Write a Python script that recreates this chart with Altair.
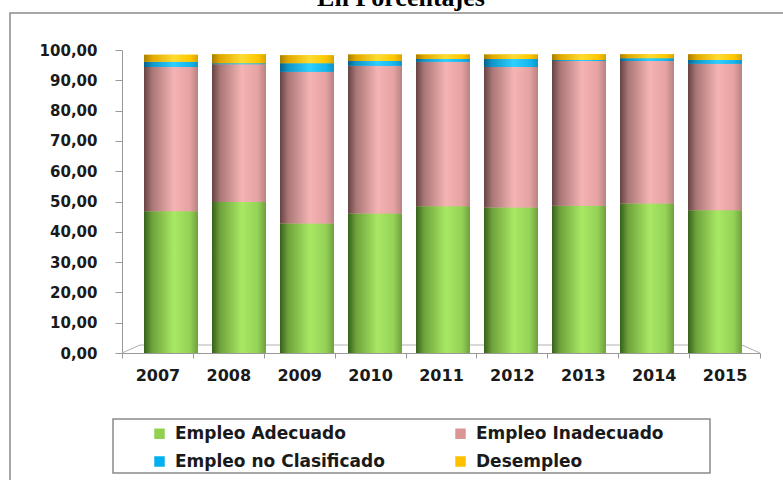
import altair as alt
import pandas as pd

years = ["2007", "2008", "2009", "2010", "2011", "2012", "2013", "2014", "2015"]
categories = ["Empleo Adecuado", "Empleo Inadecuado", "Empleo no Clasificado", "Desempleo"]
adecuado = [46.8, 49.8, 42.7, 46.0, 48.4, 48.0, 48.6, 49.3, 47.1]
inadecuado = [47.6, 45.5, 50.1, 48.8, 47.7, 46.4, 47.8, 47.1, 48.4]
no_clasificado = [1.7, 0.3, 2.8, 1.6, 0.9, 2.6, 0.3, 0.9, 1.2]
desempleo = [2.3, 3.0, 2.7, 2.1, 1.5, 1.5, 1.9, 1.3, 1.9]
y_ticks = [0, 10, 20, 30, 40, 50, 60, 70, 80, 90, 100]
title_text = "En Porcentajes"

flat_colors = ["#92D050", "#D99694", "#00B0F0", "#FFC000"]
gradient_stops = {
    "Empleo Adecuado": ["#35601b", "#6ea23c", "#a8e864", "#93d255", "#6f9e3f"],
    "Empleo Inadecuado": ["#664242", "#a97676", "#f5b3b3", "#e6a2a2", "#b88282"],
    "Empleo no Clasificado": ["#07608a", "#1096c8", "#2ed0ff", "#14b6ee", "#0f95c5"],
    "Desempleo": ["#a87e00", "#e0a800", "#ffdc30", "#ffc800", "#d9a200"],
}
stop_offsets = [0, 0.15, 0.55, 0.85, 1]

series = [adecuado, inadecuado, no_clasificado, desempleo]
rows = []
for ci, (cat, vals) in enumerate(zip(categories, series)):
    for y, v in zip(years, vals):
        rows.append({"year": y, "cat": cat, "idx": ci, "value": v})
df = pd.DataFrame(rows)

W, H = 638, 303
PAD_L, PAD_T = 122, 50

base = alt.Chart(df).transform_stack(
    stack="value", groupby=["year"], sort=[alt.SortField("idx", order="ascending")], as_=["y0", "y1"]
)

bar_x = alt.X("year:N", sort=years, axis=None,
              scale=alt.Scale(range=[15, 627], paddingInner=0.206, paddingOuter=0.103))
y_axis = alt.Axis(values=y_ticks, labelExpr="replace(format(datum.value, '.2f'), '.', ',')",
                  labelOverlap=False,
                  labelFont="DejaVu Sans", labelFontWeight="bold", labelFontSize=15,
                  labelColor="#1a1a1a", labelPadding=18, tickSize=7, tickColor="#999999",
                  domainColor="#999999", grid=False)
y_scale = alt.Scale(domain=[0, 100], nice=False, zero=True)


def y_enc():
    return alt.Y("y0:Q", title=None, scale=y_scale, axis=y_axis)


main = base.mark_bar(stroke=None).encode(
    x=bar_x,
    y=y_enc(),
    y2="y1:Q",
    color=alt.Color("cat:N", scale=alt.Scale(domain=categories, range=flat_colors),
                    legend=alt.Legend(title=None, orient="none", legendX=29, legendY=375,
                                      direction="horizontal",
                                      columns=2, columnPadding=67, rowPadding=10,
                                      symbolType="square", symbolSize=110, symbolStrokeWidth=0,
                                      labelFont="DejaVu Sans", labelFontWeight="bold",
                                      labelFontSize=17, labelColor="#1a1a1a", labelOffset=7,
                                      padding=0, labelLimit=400)),
)

overlays = []
for cat in categories:
    grad = alt.LinearGradient(
        gradient="linear", x1=0, x2=1, y1=0, y2=0,
        stops=[alt.GradientStop(offset=o, color=c) for o, c in zip(stop_offsets, gradient_stops[cat])],
    )
    overlays.append(
        base.transform_filter(alt.datum.cat == cat).mark_bar(color=grad, stroke=None).encode(
            x=bar_x, y=y_enc(), y2="y1:Q"
        )
    )

axis_layer = alt.Chart(pd.DataFrame({"year": years})).mark_point(opacity=0).encode(
    x=alt.X("year:N", sort=years, title=None,
            scale=alt.Scale(paddingInner=0, paddingOuter=0),
            axis=alt.Axis(labelFont="DejaVu Sans", labelFontWeight="bold", labelFontSize=16,
                          labelColor="#1a1a1a", labelAngle=0, labelPadding=9, tickBand="extent",
                          tickSize=5, tickColor="#999999", domainColor="#999999")),
)

one = alt.Data(values=[{}])
floor_left = alt.Chart(one).mark_rule(color="#b0b0b0").encode(
    x=alt.value(0), y=alt.value(H), x2=alt.value(18), y2=alt.value(H - 8))
floor_back = alt.Chart(one).mark_rule(color="#b0b0b0").encode(
    x=alt.value(18), y=alt.value(H - 8), x2=alt.value(620), y2=alt.value(H - 8))
floor_right = alt.Chart(one).mark_rule(color="#b0b0b0").encode(
    x=alt.value(620), y=alt.value(H - 8), x2=alt.value(W), y2=alt.value(H))

frame = alt.Chart(one).mark_rect(fillOpacity=0, stroke="#8a8a8a", strokeWidth=1.5).encode(
    x=alt.value(10 - PAD_L), x2=alt.value(820 - PAD_L), y=alt.value(13 - PAD_T), y2=alt.value(520 - PAD_T))
legend_box = alt.Chart(one).mark_rect(fillOpacity=0, stroke="#8a8a8a", strokeWidth=1.5).encode(
    x=alt.value(113 - PAD_L), x2=alt.value(710 - PAD_L), y=alt.value(419 - PAD_T), y2=alt.value(473 - PAD_T))
title = alt.Chart(one).mark_text(font="Liberation Serif", fontWeight="bold", fontSize=26,
                                 align="center", baseline="alphabetic", color="#000000").encode(
    x=alt.value(401 - PAD_L), y=alt.value(6 - PAD_T), text=alt.value(title_text))

bars = alt.layer(main, *overlays)

chart = alt.layer(
    frame, legend_box, title, floor_left, floor_back, floor_right, axis_layer, bars
).resolve_scale(x="independent").properties(
    width=W, height=H,
    autosize=alt.AutoSizeParams(type="none"),
    padding={"left": PAD_L, "top": PAD_T, "right": 783 - PAD_L - W, "bottom": 480 - PAD_T - H},
    background="white",
).configure_view(stroke=None)

chart.save("out.html", embed_options={"renderer": "svg", "actions": False})
